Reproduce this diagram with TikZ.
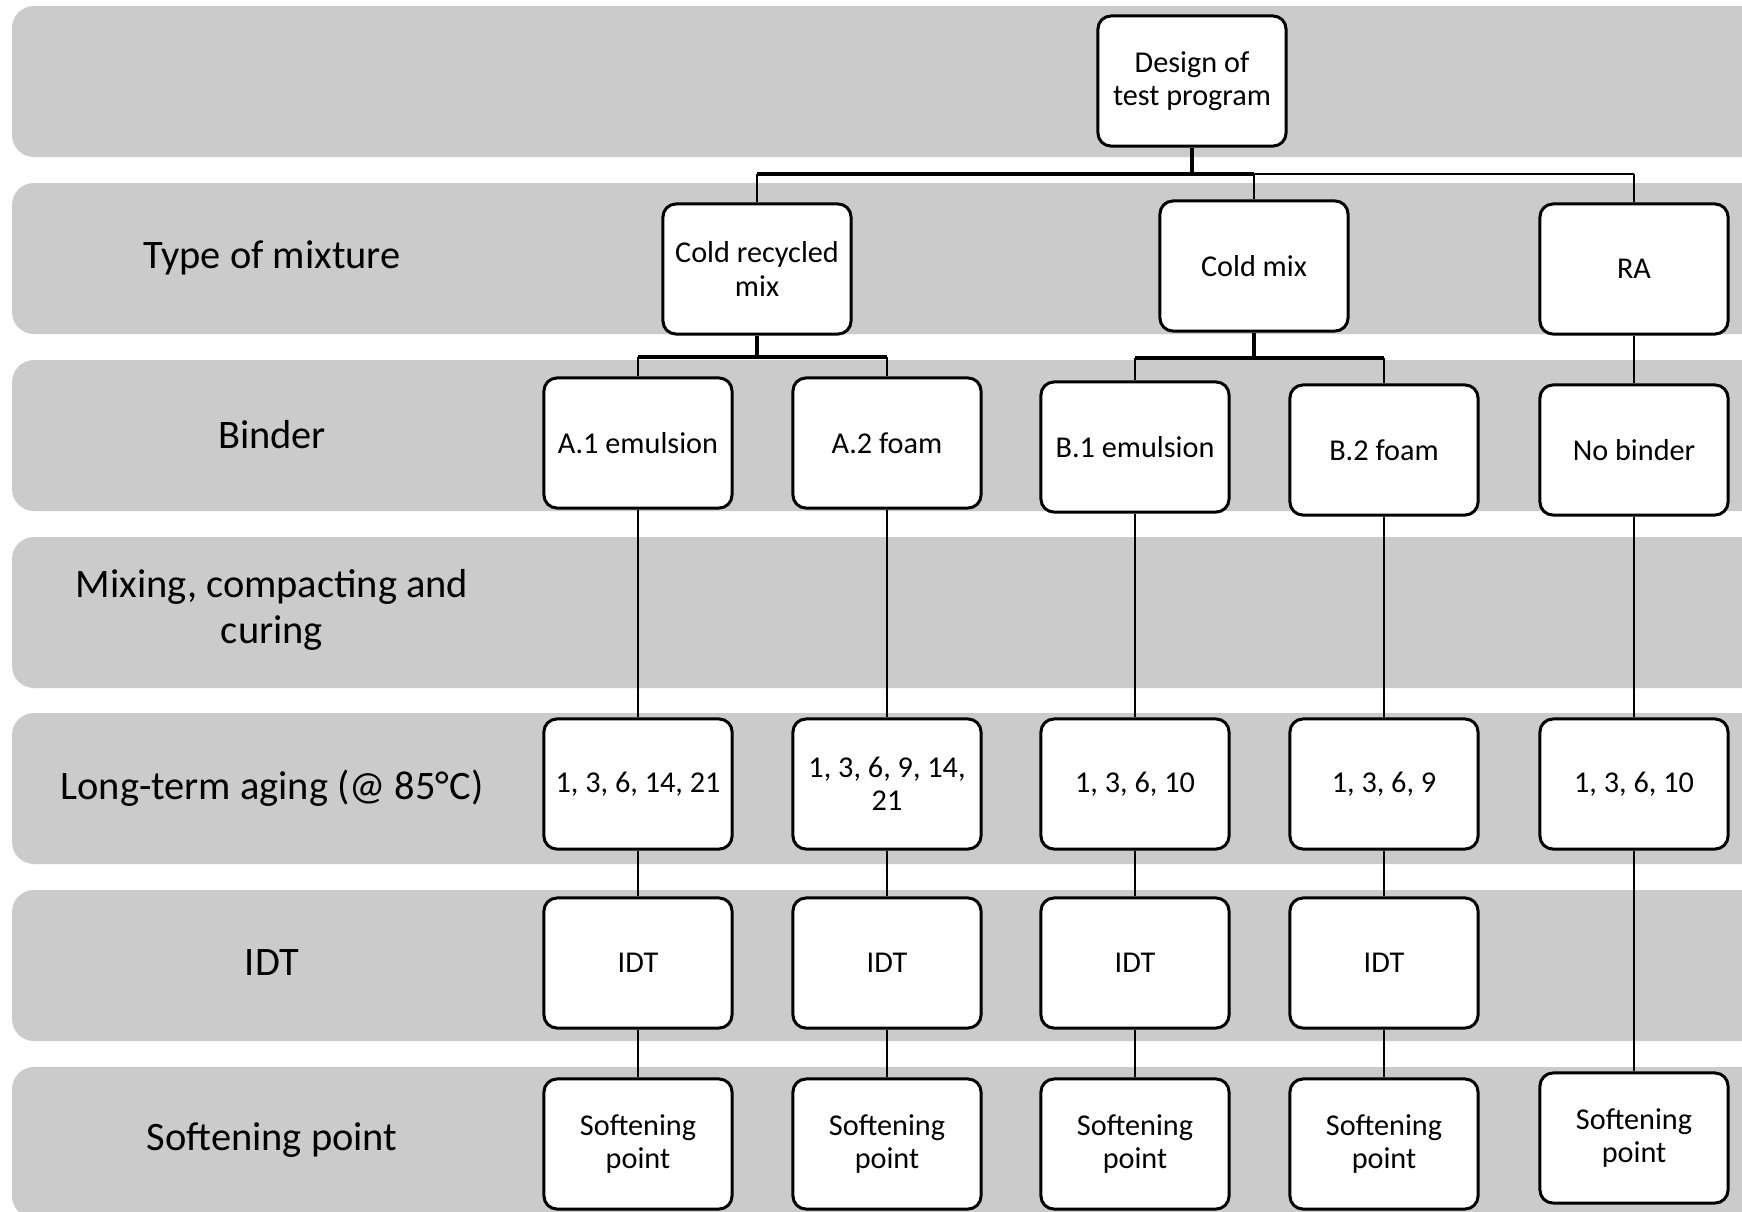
\documentclass[tikz,border=0pt]{standalone}
\usepackage{fontspec}
\setmainfont{Carlito}
\usetikzlibrary{positioning}
\definecolor{bandgray}{HTML}{CBCBCB}

\begin{document}
\begin{tikzpicture}[x=0.01cm,y=-0.01cm,
  band/.style={fill=bandgray,rounded corners=0.22cm},
  lbl/.style={font=\fontsize{11.5}{13.3}\selectfont,align=center},
  box/.style={draw,line width=0.85pt,rounded corners=0.13cm,fill=white,
    minimum width=1.88cm,minimum height=1.30cm,align=center,
    font=\fontsize{8.6}{9.4}\selectfont},
  link/.style={line width=0.5pt},
  bus/.style={line width=1.1pt}]
  \clip (0,0) rectangle (1742,1211);
  % ---- row bands ----
  \foreach \t in {6,183,360,537,713,890,1067}
    \fill[band] (12,\t) rectangle (1790,\t+151);
  % ---- row labels ----
  \node[lbl] (lmix)  at (272,258)  {Type of mixture};
  \node[lbl] (lbind) at (272,435)  {Binder};
  \node[lbl] (lcure) at (272,610)  {Mixing, compacting and\\curing};
  \node[lbl] (lage)  at (272,788)  {Long-term aging (@ 85°C)};
  \node[lbl] (lidt)  at (272,963)  {IDT};
  \node[lbl] (lsoft) at (272,1140) {Softening point};
  % ---- tree ----
  \node[box] (design) at (1192,81)  {Design of\\test program};
  \node[box] (crm)    at (757,269)  {Cold recycled\\mix};
  \node[box] (cm)     at (1254,266) {Cold mix};
  \node[box] (ra)     at (1634,269) {RA};
  \node[box] (a1)     at (638,443)  {A.1 emulsion};
  \node[box] (a2)     at (887,443)  {A.2 foam};
  \node[box] (b1)     at (1135,447) {B.1 emulsion};
  \node[box] (b2)     at (1384,450) {B.2 foam};
  \node[box] (nb)     at (1634,450) {No binder};
  \node[box] (a1age)  at (638,784)  {1, 3, 6, 14, 21};
  \node[box] (a2age)  at (887,784)  {1, 3, 6, 9, 14,\\21};
  \node[box] (b1age)  at (1135,784) {1, 3, 6, 10};
  \node[box] (b2age)  at (1384,784) {1, 3, 6, 9};
  \node[box] (nbage)  at (1634,784) {1, 3, 6, 10};
  \node[box] (a1idt)  at (638,963)  {IDT};
  \node[box] (a2idt)  at (887,963)  {IDT};
  \node[box] (b1idt)  at (1135,963) {IDT};
  \node[box] (b2idt)  at (1384,963) {IDT};
  \node[box] (a1sp)   at (638,1144)  {Softening\\point};
  \node[box] (a2sp)   at (887,1144)  {Softening\\point};
  \node[box] (b1sp)   at (1135,1144) {Softening\\point};
  \node[box] (b2sp)   at (1384,1144) {Softening\\point};
  \node[box] (nbsp)   at (1634,1138) {Softening\\point};
  % ---- connectors ----
  \coordinate (topbus) at (1192,174);
  \draw[bus] (design.south) -- (topbus) -- (topbus -| cm.north);
  \draw[bus] (topbus) -- (topbus -| crm.north);
  \draw[link,line width=0.8pt] (topbus -| cm.north) -- (topbus -| ra.north);
  \draw[link] (topbus -| crm.north) -- (crm.north);
  \draw[link] (topbus -| cm.north) -- (cm.north);
  \draw[link] (topbus -| ra.north) -- (ra.north);
  \coordinate (crmbus) at (757,357);
  \draw[bus] (crm.south) -- (crmbus);
  \draw[bus] (crmbus -| a1.north) -- (crmbus -| a2.north);
  \draw[link] (crmbus -| a1.north) -- (a1.north);
  \draw[link] (crmbus -| a2.north) -- (a2.north);
  \coordinate (cmbus) at (1254,358);
  \draw[bus] (cm.south) -- (cmbus);
  \draw[bus] (cmbus -| b1.north) -- (cmbus -| b2.north);
  \draw[link] (cmbus -| b1.north) -- (b1.north);
  \draw[link] (cmbus -| b2.north) -- (b2.north);
  \draw[link] (ra) -- (nb);
  \foreach \c in {a1,a2,b1,b2}
    \draw[link] (\c) -- (\c age) (\c age) -- (\c idt) (\c idt) -- (\c sp);
  \draw[link] (nb) -- (nbage) (nbage) -- (nbsp);
\end{tikzpicture}
\end{document}
